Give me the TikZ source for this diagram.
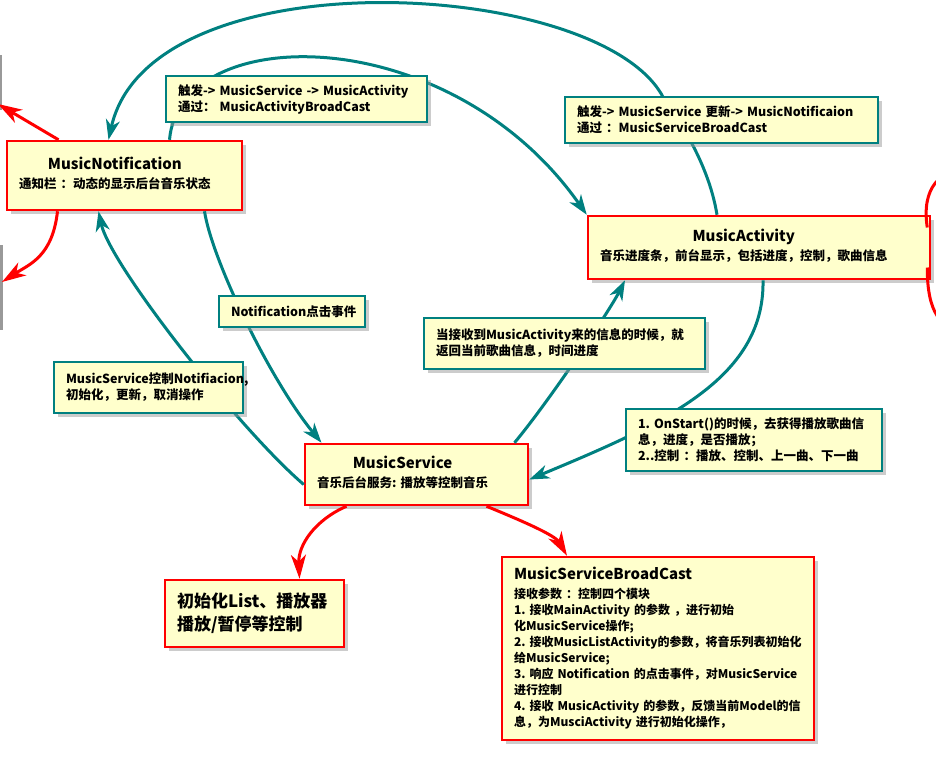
\documentclass[tikz,border=0pt]{standalone}
\usepackage{fontspec}
\setmainfont{Noto Sans CJK SC}
\usetikzlibrary{arrows.meta,shadows}
\definecolor{boxfill}{RGB}{255,255,204}
\definecolor{tealc}{RGB}{0,128,128}
\definecolor{redc}{RGB}{255,0,0}
\hyphenpenalty=10000
\exhyphenpenalty=10000

\begin{document}
\begin{tikzpicture}[x=1pt,y=-1pt,font=\fontsize{12.5}{16}\selectfont\bfseries,
	redbox/.style={draw=redc,line width=2.5pt,fill=boxfill,inner xsep=12pt,inner ysep=4pt,align=left,
		drop shadow={shadow xshift=4pt,shadow yshift=-4pt,fill=black!40}},
	tealbox/.style={redbox,draw=tealc},
	tealline/.style={draw=tealc,line width=3pt,-{Stealth[length=20pt,width=14pt,inset=6pt]}},
	redline/.style={draw=redc,line width=3pt,-{Stealth[length=24pt,width=15pt,inset=7pt]}}]
	\useasboundingbox (0,0) rectangle (936,766);
	\clip (0,0) rectangle (936,766);

	% shadows of boxes outside the picture
	\fill[black!40] (0,55) rectangle (2,110);
	\fill[black!40] (0,245) rectangle (3,330);

	\node[redbox,minimum width=235pt,minimum height=69pt,text width=211pt] at (124.5,175.5) (notif)
		{\begin{tabular}{@{}l@{}}\multicolumn{1}{@{}c@{}}{\fontsize{15}{16}\selectfont MusicNotification}\\[3pt]
		通知栏~：动态的显示后台音乐状态\end{tabular}};
	\node[redbox,minimum width=342pt,minimum height=63pt,text width=318pt] at (759,247.5) (act)
		{\begin{tabular}{@{}l@{}}\multicolumn{1}{@{}c@{}}{\fontsize{15}{16}\selectfont MusicActivity}\\[3pt]
		音乐进度条，前台显示，包括进度，控制，歌曲信息\end{tabular}};
	\node[redbox,minimum width=223pt,minimum height=61pt,text width=199pt] at (416.5,474.5) (serv)
		{\begin{tabular}{@{}l@{}}\multicolumn{1}{@{}c@{}}{\fontsize{15}{16}\selectfont MusicService}\\[3pt]
		音乐后台服务:~播放等控制音乐\end{tabular}};
	\node[redbox,minimum width=179pt,minimum height=67pt,text width=155pt,font=\fontsize{17}{23}\selectfont\bfseries] at (254.5,613.5) (init)
		{初始化List、播放器\\播放/暂停等控制};
	\node[redbox,minimum width=312pt,minimum height=183pt,text width=288pt,font=\fontsize{12}{16}\selectfont\bfseries] at (658,648.5) (bcast)
		{{\fontsize{15}{16}\selectfont MusicServiceBroadCast}\\[3pt]
		接收参数~：控制四个模块\\
		1.~接收MainActivity~的参数~，进行初始\\
		化MusicService操作;\\
		2.~接收MusicListActivity的参数，将音乐列表初始化\\
		给MusicService;\\
		3.~响应~Notification~的点击事件，对MusicService\\
		进行控制\\
		4.~接收~MusicActivity~的参数，反馈当前Model的信\\
		息，为MusciActivity~进行初始化操作，};

	\coordinate (lt1) at (-2,104);
	\coordinate (lt2) at (2,282);
	\coordinate (rt1) at (985,165);
	\coordinate (rt2) at (985,335);

	\draw[redline] ([xshift=-66pt]notif.north) -- (lt1);
	\draw[redline] ([xshift=-67pt]notif.south) .. controls +(-5,45) and +(28,-18) .. (lt2);
	\draw[redline] ([xshift=-4pt,yshift=20pt]act.east) .. controls +(-6,-40) and +(-45,5) .. (rt1);
	\draw[redline] ([xshift=-4pt,yshift=-20pt]act.east) .. controls +(0,45) and +(-45,-5) .. (rt2);

	\draw[tealline] ([xshift=-42pt]act.north) .. controls (708,160) and (675,115) .. (663,97)
		.. controls (600,-22) and (150,-46) .. ([xshift=-16pt]notif.north);
	\draw[tealline] ([xshift=45pt]notif.north) .. controls (180,20) and (450,20) .. (act.north west);
	\draw[tealline] ([xshift=80pt]notif.south) .. controls (212,260) and (270,380) .. ([xshift=-95pt]serv.north);
	\draw[tealline] ([yshift=-10pt]serv.west) .. controls (240,430) and (110,265) .. ([xshift=-26pt]notif.south);
	\draw[tealline] ([xshift=98pt]serv.north) .. controls (550,400) and (610,310) .. ([xshift=-134pt]act.south);
	\draw[tealline] ([xshift=4pt]act.south) .. controls (765,380) and (660,425) .. ([yshift=-5pt]serv.east);

	\draw[redline] ([xshift=-70pt]serv.south) .. controls (315,520) and (298,545) .. ([xshift=45pt]init.north);
	\draw[redline] ([xshift=70pt]serv.south) .. controls (520,520) and (555,535) .. ([xshift=-91pt]bcast.north);

	% labels on the connectors
	\node[tealbox,minimum width=261pt,minimum height=46pt,text width=237pt] at (296.5,99) (trig1)
		{触发->~MusicService~->~MusicActivity\\通过：~MusicActivityBroadCast};
	\node[tealbox,minimum width=313pt,minimum height=46pt,text width=289pt] at (721.5,120) (trig2)
		{触发->~MusicService~更新->~MusicNotificaion\\通过~：MusicServiceBroadCast};
	\node[tealbox,minimum width=146pt,minimum height=31pt,text width=122pt] at (292,311.5) (click)
		{Notification点击事件};
	\node[tealbox,minimum width=281pt,minimum height=51pt,text width=257pt] at (564.5,343.5) (reply)
		{当接收到MusicActivity来的信息的时候，就\\返回当前歌曲信息，时间进度};
	\node[tealbox,minimum width=189pt,minimum height=51pt,text width=165pt] at (148.5,387.5) (ctrl)
		{MusicService控制Notifiacion,\\初始化，更新，取消操作};
	\node[tealbox,minimum width=256pt,minimum height=62pt,text width=232pt] at (754,440) (start)
		{1.~OnStart()的时候，去获得播放歌曲信\\息，进度，是否播放；\\2..控制~：播放、控制、上一曲、下一曲};
\end{tikzpicture}
\end{document}
